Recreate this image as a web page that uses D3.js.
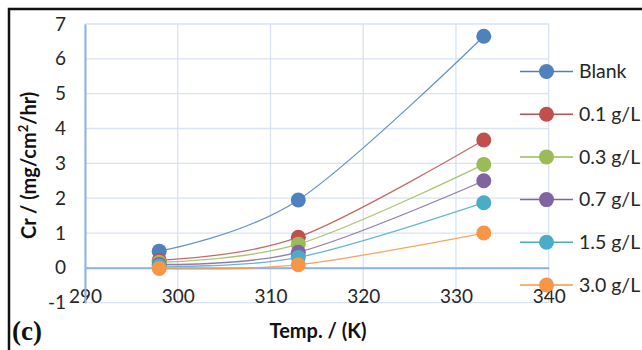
<!DOCTYPE html>
<html>
<head>
<meta charset="utf-8">
<script src="https://cdn.jsdelivr.net/npm/d3@7"></script>
<style>
  html, body { margin: 0; padding: 0; background: #fff; }
  svg { display: block; }
  .tick text { font-family: Lato, "Open Sans", sans-serif; font-size: 19px; fill: #262626; }
</style>
</head>
<body>
<svg id="chart" width="642" height="350"></svg>
<script>
// Corrosion rate vs. temperature for each inhibitor concentration
const temps = [298, 313, 333];
const seriesNames = ["Blank", "0.1 g/L", "0.3 g/L", "0.7 g/L", "1.5 g/L", "3.0 g/L"];
const blank = [0.48, 1.95, 6.65];
const conc01 = [0.22, 0.88, 3.67];
const conc03 = [0.16, 0.68, 2.97];
const conc07 = [0.10, 0.45, 2.50];
const conc15 = [0.05, 0.30, 1.87];
const conc30 = [-0.02, 0.09, 1.00];
const seriesColors = ["#4f81bd", "#c0504d", "#9bbb59", "#8064a2", "#4bacc6", "#f79646"];
const xTicks = [290, 300, 310, 320, 330, 340];
const yTicks = [-1, 0, 1, 2, 3, 4, 5, 6, 7];

const seriesValues = [blank, conc01, conc03, conc07, conc15, conc30];
const series = seriesNames.map((name, i) => ({
  name,
  color: seriesColors[i],
  points: temps.map((t, j) => ({ t, v: seriesValues[i][j] }))
}));

const svg = d3.select("#chart");

const x = d3.scaleLinear().domain([290, 340]).range([85, 548.7]);
const y = d3.scaleLinear().domain([-1, 7]).range([302.7, 24]);
const plainNum = d => String(d); // hyphen-minus, as in the spreadsheet labels

// outer frame
svg.append("rect")
  .attr("x", 9).attr("y", 9).attr("width", 700).attr("height", 400)
  .attr("fill", "none").attr("stroke", "#111").attr("stroke-width", 2.5);

// gridlines
const grid = svg.append("g");
grid.selectAll("line.h").data(yTicks).join("line")
  .attr("x1", x(290)).attr("x2", x(340))
  .attr("y1", d => y(d)).attr("y2", d => y(d))
  .attr("stroke", "#d9e3f4").attr("stroke-width", 1.3);
grid.selectAll("line.v").data(xTicks).join("line")
  .attr("x1", d => x(d)).attr("x2", d => x(d))
  .attr("y1", y(-1)).attr("y2", y(7))
  .attr("stroke", "#d9e3f4").attr("stroke-width", 1.3);

// axes
const xAxis = svg.append("g")
  .attr("transform", `translate(0,${y(0)})`)
  .call(d3.axisBottom(x).tickValues(xTicks).tickSize(0).tickSizeOuter(0).tickPadding(22).tickFormat(plainNum));
xAxis.select(".domain").attr("stroke", "#8db3e6").attr("stroke-width", 2);

const yAxis = svg.append("g")
  .attr("transform", `translate(${x(290)},0)`)
  .call(d3.axisLeft(y).tickValues(yTicks).tickSize(0).tickSizeOuter(0).tickPadding(19).tickFormat(plainNum));
yAxis.select(".domain").attr("stroke", "#8db3e6").attr("stroke-width", 2);

// smoothed lines and markers
const line = d3.line()
  .x(d => x(d.t)).y(d => y(d.v))
  .curve(d3.curveCardinal.tension(0));

const plot = svg.append("g");
series.forEach(s => {
  plot.append("path")
    .datum(s.points)
    .attr("d", line)
    .attr("fill", "none")
    .attr("stroke", s.color)
    .attr("stroke-width", 1.3)
    .attr("stroke-opacity", 0.85);
});
series.forEach(s => {
  plot.selectAll(null).data(s.points).join("circle")
    .attr("cx", d => x(d.t)).attr("cy", d => y(d.v))
    .attr("r", 7.5)
    .attr("fill", s.color);
});

// legend
const legend = svg.append("g");
const legendItem = legend.selectAll("g").data(series).join("g")
  .attr("transform", (d, i) => `translate(0,${71.5 + i * 42.7})`);
legendItem.append("line")
  .attr("x1", 520).attr("x2", 573).attr("y1", 0).attr("y2", 0)
  .attr("stroke", d => d.color).attr("stroke-width", 1.5);
legendItem.append("circle")
  .attr("cx", 546.5).attr("cy", 0).attr("r", 7.5)
  .attr("fill", d => d.color);
legendItem.append("text")
  .attr("x", 579).attr("y", 0).attr("dy", "0.35em")
  .attr("font-family", "Lato, 'Open Sans', sans-serif")
  .attr("font-size", 19.5).attr("fill", "#262626")
  .text(d => d.name);

// axis titles
const yTitle = svg.append("text")
  .attr("transform", `translate(36,${(y(-1) + y(7)) / 2 + 2}) rotate(-90)`)
  .attr("text-anchor", "middle")
  .attr("font-family", "Lato, 'Open Sans', sans-serif")
  .attr("font-weight", "bold").attr("font-size", 20).attr("fill", "#111");
yTitle.append("tspan").text("Cr / (mg/cm");
yTitle.append("tspan").attr("font-size", 13).attr("dy", -8).text("2");
yTitle.append("tspan").attr("dy", 8).text("/hr)");

svg.append("text")
  .attr("x", 318).attr("y", 338)
  .attr("text-anchor", "middle")
  .attr("font-family", "Lato, 'Open Sans', sans-serif")
  .attr("font-weight", "bold").attr("font-size", 20).attr("fill", "#111")
  .text("Temp. / (K)");

svg.append("text")
  .attr("x", 12).attr("y", 340)
  .attr("font-family", "'Liberation Serif', 'Times New Roman', serif")
  .attr("font-weight", "bold").attr("font-size", 27).attr("fill", "#111")
  .text("(c)");
</script>
</body>
</html>
